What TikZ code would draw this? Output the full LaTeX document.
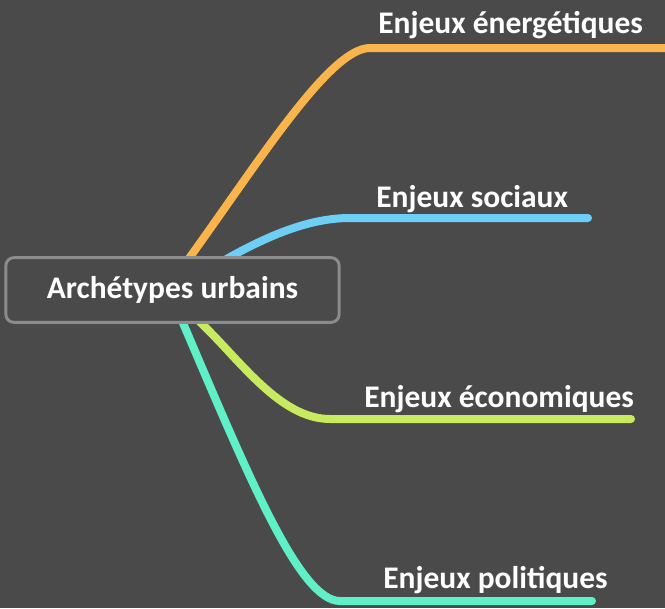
\documentclass[tikz,border=0pt]{standalone}
\usepackage{fontspec}
\setmainfont{Carlito}
\usetikzlibrary{calc}
\definecolor{bggray}{HTML}{4A4A4A}
\definecolor{boxgray}{HTML}{8C8C8C}
\definecolor{orangeline}{HTML}{F9B44C}
\definecolor{blueline}{HTML}{6DCFF6}
\definecolor{greenline}{HTML}{C8EA5E}
\definecolor{tealline}{HTML}{60F0C8}
\tikzset{
  branch/.style={line width=6pt, line cap=round},
  label/.style={anchor=base west, inner sep=0pt, text=white, font=\bfseries\fontsize{23.6}{28}\selectfont},
}
\begin{document}
\begin{tikzpicture}[x=0.75pt,y=-0.75pt]
            \fill[bggray] (0,0) rectangle (665,608);
            \useasboundingbox (0,0) rectangle (665,608);
            \coordinate (orangestart) at (179,272);
            \coordinate (bluestart) at (208,270);
            \coordinate (greenstart) at (186,308);
            \coordinate (tealstart) at (177,308);
            \coordinate (energend) at (668,48);
            \coordinate (socend) at (588,218);
            \coordinate (ecoend) at (631,419);
            \coordinate (polend) at (592,601);
            \draw[branch, orangeline] (orangestart) -- (190,257) .. controls (260,160) and (330,48) .. (370,48) -- (energend);
            \draw[branch, blueline] (bluestart) -- (230,257) .. controls (270,235) and (310,218) .. (350,218) -- (socend);
            \draw[branch, greenline] (greenstart) -- (201,323) .. controls (240,360) and (280,419) .. (330,419) -- (ecoend);
            \draw[branch, tealline] (tealstart) -- (183,323) .. controls (250,480) and (300,601) .. (340,601) -- (polend);
            \node[draw=boxgray, line width=2.2pt, rounded corners=6pt, fill=bggray,
                  minimum width=250pt, minimum height=48.5pt, text=white,
                  font=\bfseries\fontsize{23.6}{28}\selectfont] (archetypes) at (172.5,290) {Archétypes urbains};
            \node[label] (energetiques) at (378,33) {Enjeux énergétiques};
            \node[label] (sociaux) at (376,207) {Enjeux sociaux};
            \node[label] (economiques) at (364,407) {Enjeux économiques};
            \node[label] (politiques) at (383,588) {Enjeux politiques};
\end{tikzpicture}
\end{document}
